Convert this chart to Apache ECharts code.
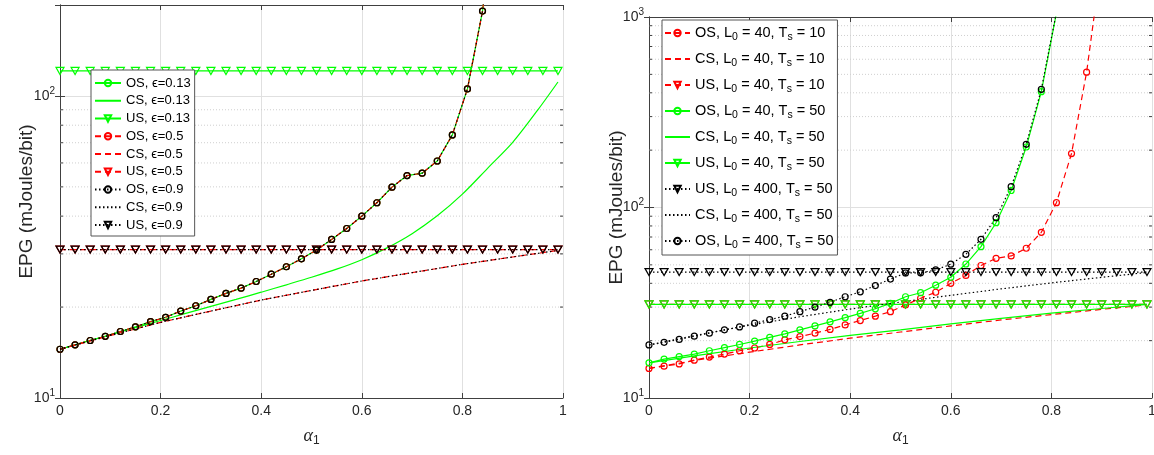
<!DOCTYPE html>
<html>
<head>
<meta charset="utf-8">
<script src="https://cdn.jsdelivr.net/npm/echarts@6/dist/echarts.min.js"></script>
<style>
  html, body { margin: 0; padding: 0; background: #fff; }
  #chart { width: 1154px; height: 455px; }
</style>
</head>
<body>
<div id="chart"></div>
<script>
// alpha_1 samples used for the marked curves (0 : 0.03 : 0.99)
var alpha = [0, 0.03, 0.06, 0.09, 0.12, 0.15, 0.18, 0.21, 0.24, 0.27, 0.30, 0.33,
  0.36, 0.39, 0.42, 0.45, 0.48, 0.51, 0.54, 0.57, 0.60, 0.63, 0.66, 0.69, 0.72,
  0.75, 0.78, 0.81, 0.84, 0.87, 0.90, 0.93, 0.96, 0.99];
// alpha_1 samples for the CS curves
var alphaCS = [0, 0.1, 0.2, 0.3, 0.4, 0.5, 0.6, 0.7, 0.8, 0.9, 0.99];
var alphaCSFine = [0, 0.05, 0.1, 0.15, 0.2, 0.25, 0.3, 0.35, 0.4, 0.45, 0.5, 0.55,
  0.6, 0.65, 0.7, 0.75, 0.8, 0.85, 0.9, 0.95, 0.99];

// left panel (epsilon)
var leftOS = [14.5, 15.0, 15.5, 16.0, 16.6, 17.2, 17.9, 18.5, 19.4, 20.2, 21.2, 22.2,
  23.1, 24.3, 25.7, 27.2, 28.9, 30.9, 33.5, 36.4, 40.0, 44.3, 49.9, 54.5, 55.5,
  60.9, 74.3, 105.5, 191, 513];
var leftCS013 = [14.5, 15.35, 16.2, 17.1, 18.05, 19.05, 20.1, 21.2, 22.4, 23.7, 25.1,
  26.7, 28.7, 31.4, 35.0, 40.1, 47.3, 57.6, 70.2, 89.9, 111.2];
var leftCS = [14.5, 16.1, 17.8, 19.4, 21.1, 22.7, 24.4, 26.0, 27.7, 29.3, 30.8];
var leftUS013 = 121;
var leftUS = 31;

// right panel (L0, Ts)
var rightOS10 = [14.3, 14.7, 15.1, 15.8, 16.4, 17.0, 17.7, 18.3, 19.1, 20.2, 21.0,
  21.9, 22.9, 24.2, 25.5, 26.9, 28.4, 30.8, 33.4, 35.9, 40.0, 44.0, 49.6, 54.1,
  55.7, 61.1, 74.1, 106, 192, 513, 2000];
var rightOS50 = [15.3, 16.0, 16.5, 17.0, 17.7, 18.4, 19.1, 19.9, 20.8, 21.7, 22.8,
  23.9, 25.1, 26.4, 27.8, 29.4, 31.4, 34.0, 35.7, 39.1, 43.0, 50.5, 62.3, 83.2,
  122.8, 207.8, 405.5, 1050];
var rightOS400 = [19.0, 19.6, 20.3, 21.1, 21.9, 22.8, 23.6, 24.7, 25.8, 26.9, 28.4,
  30.0, 31.8, 34.0, 36.1, 38.9, 42.1, 45.3, 45.4, 47.0, 50.4, 56.8, 68.1, 88.4,
  128.6, 214.7, 417.4, 1060];
var rightCS10 = [14.3, 15.9, 17.4, 19.0, 20.6, 22.2, 23.9, 25.7, 27.4, 29.2, 30.8];
var rightCS50 = [15.3, 16.8, 18.3, 19.8, 21.3, 22.8, 24.5, 26.2, 27.9, 29.5, 31.0];
var rightCS400 = [19.0, 21.5, 24.1, 26.7, 29.3, 31.9, 34.6, 37.4, 40.2, 43.0, 45.6];
var rightUS40 = 31;
var rightUS400 = 45.8;

// minor grid values of the log axes
var minorLeft = [20, 30, 40, 50, 60, 70, 80, 90];
var minorRight = [20, 30, 40, 50, 60, 70, 80, 90, 200, 300, 400, 500, 600, 700, 800, 900];

var FONT = '"Liberation Sans", Arial, Helvetica, sans-serif';
var AXIS = '#404040';
var GREEN = '#00ff00', RED = '#ff0000', BLACK = '#000000';
var DASH = [6, 4], DOT = [1.5, 2.5];

function pairs(xs, ys) {
  return ys.map(function (y, i) { return [xs[i], y]; });
}
function flat(xs, v) {
  return xs.map(function (x) { return [x, v]; });
}

function line(name, g, data, color, type, symbol, smooth) {
  var s = {
    name: name,
    type: 'line',
    xAxisIndex: g * 2,
    yAxisIndex: g * 2,
    data: data,
    z: 3,
    silent: true,
    smooth: smooth || false,
    symbol: symbol || 'none',
    showSymbol: !!symbol,
    symbolSize: symbol === 'triangle' ? [8, 7] : 6,
    symbolRotate: symbol === 'triangle' ? 180 : 0,
    lineStyle: { color: color, width: 1.2, type: type },
    itemStyle: { color: 'rgba(0,0,0,0)', borderColor: color, borderWidth: 1.2 },
    emphasis: { disabled: true }
  };
  if (!symbol) s.itemStyle.borderWidth = 0;
  return s;
}

function minorSeries(g, vals) {
  return {
    type: 'custom',
    xAxisIndex: g * 2,
    yAxisIndex: g * 2,
    silent: true,
    z: 1,
    data: vals.map(function (v) { return [0, v]; }),
    renderItem: function (params, api) {
      var v = api.value(1);
      var a = api.coord([0, v]);
      var b = api.coord([1, v]);
      return {
        type: 'group',
        children: [
          { type: 'line', shape: { x1: a[0], y1: a[1], x2: b[0], y2: b[1] },
            style: { stroke: '#cfcfcf', lineWidth: 1, lineDash: [1, 2] } },
          { type: 'line', shape: { x1: a[0], y1: a[1], x2: a[0] + 3, y2: a[1] },
            style: { stroke: AXIS, lineWidth: 1 } },
          { type: 'line', shape: { x1: b[0] - 3, y1: b[1], x2: b[0], y2: b[1] },
            style: { stroke: AXIS, lineWidth: 1 } }
        ]
      };
    }
  };
}

function xAxis(g, pos, main) {
  return {
    type: 'value', gridIndex: g, position: pos, min: 0, max: 1, interval: 0.2,
    axisLine: { show: true, lineStyle: { color: AXIS, width: 1 } },
    axisTick: { show: true, inside: true, length: 5, lineStyle: { color: AXIS } },
    axisLabel: { show: main, color: '#262626', fontSize: 14, margin: 6, fontFamily: FONT },
    splitLine: { show: main, lineStyle: { color: '#e0e0e0', width: 1 } },
    name: main ? '{a|\u03b1}{s|1}' : '',
    nameLocation: 'middle',
    nameGap: 27,
    nameMoveOverlap: false,
    nameTextStyle: {
      color: '#262626', lineHeight: 22,
      rich: {
        a: { fontSize: 18, fontStyle: 'italic', fontFamily: '"Liberation Serif", serif', color: '#262626', lineHeight: 22 },
        s: { fontSize: 12, fontFamily: FONT, color: '#262626', lineHeight: 12, verticalAlign: 'bottom' }
      }
    }
  };
}

function yAxis(g, pos, main, max, gap) {
  return {
    type: 'log', logBase: 10, gridIndex: g, position: pos, min: 10, max: max,
    axisLine: { show: true, lineStyle: { color: AXIS, width: 1 } },
    axisTick: { show: true, inside: true, length: 5, lineStyle: { color: AXIS } },
    axisLabel: {
      show: main, color: '#262626', fontSize: 14, margin: 5, fontFamily: FONT, lineHeight: 20,
      formatter: function (v) {
        var e = Math.log(v) / Math.LN10;
        var r = Math.round(e);
        if (Math.abs(e - r) > 1e-6) return '';
        return '10{sup|' + r + '}';
      },
      rich: { sup: { fontSize: 10, fontFamily: FONT, color: '#262626', lineHeight: 9, verticalAlign: 'top' } }
    },
    splitLine: { show: main, lineStyle: { color: '#e0e0e0', width: 1 } },
    name: main ? 'EPG (mJoules/bit)' : '',
    nameLocation: 'middle',
    nameGap: gap,
    nameMoveOverlap: false,
    nameTextStyle: { color: '#262626', fontSize: 19, fontFamily: FONT }
  };
}

var leftNames = ['OS, \u03f5=0.13', 'CS, \u03f5=0.13', 'US, \u03f5=0.13',
  'OS, \u03f5=0.5', 'CS, \u03f5=0.5', 'US, \u03f5=0.5',
  'OS, \u03f5=0.9', 'CS, \u03f5=0.9', 'US, \u03f5=0.9'];
var rightNames = ['OS, L_0 = 40, T_s = 10', 'CS, L_0 = 40, T_s = 10', 'US, L_0 = 40, T_s = 10',
  'OS, L_0 = 40, T_s = 50', 'CS, L_0 = 40, T_s = 50', 'US, L_0 = 40, T_s = 50',
  'US, L_0 = 400, T_s = 50', 'CS, L_0 = 400, T_s = 50', 'OS, L_0 = 400, T_s = 50'];

var chart = echarts.init(document.getElementById('chart'), null, { renderer: 'canvas' });

var option = {
  animation: false,
  backgroundColor: '#ffffff',
  textStyle: { fontFamily: FONT },
  grid: [
    { left: 60, top: 5, width: 503, height: 393, outerBoundsMode: 'none' },
    { left: 649, top: 17, width: 503, height: 381, outerBoundsMode: 'none' }
  ],
  xAxis: [xAxis(0, 'bottom', true), xAxis(0, 'top', false), xAxis(1, 'bottom', true), xAxis(1, 'top', false)],
  yAxis: [yAxis(0, 'left', true, 200, 24), yAxis(0, 'right', false, 200, 0),
    yAxis(1, 'left', true, 1000, 23), yAxis(1, 'right', false, 1000, 0)],
  legend: [
    {
      data: leftNames, orient: 'vertical', left: 91, top: 70,
      padding: [6, 4, 4, 3], itemWidth: 26, itemHeight: 8, itemGap: 3.75,
      backgroundColor: '#fff', borderColor: '#555', borderWidth: 1, borderRadius: 0,
      selectedMode: false,
      textStyle: { fontSize: 13, lineHeight: 14, color: '#000', fontFamily: FONT }
    },
    {
      data: rightNames, orient: 'vertical', left: 662, top: 20,
      padding: [3, 4, 4, 2], itemWidth: 25, itemHeight: 8, itemGap: 6,
      backgroundColor: '#fff', borderColor: '#555', borderWidth: 1, borderRadius: 0,
      selectedMode: false,
      formatter: function (name) { return name.replace(/_(\w)/g, '{sub|$1}'); },
      textStyle: {
        fontSize: 14.5, lineHeight: 20, color: '#000', fontFamily: FONT,
        rich: { sub: { fontSize: 10.5, lineHeight: 10, verticalAlign: 'bottom', color: '#000', fontFamily: FONT } }
      }
    }
  ],
  series: [
    minorSeries(0, minorLeft),
    minorSeries(1, minorRight),

    line('OS, \u03f5=0.13', 0, pairs(alpha, leftOS), GREEN, 'solid', 'circle'),
    line('CS, \u03f5=0.13', 0, pairs(alphaCSFine, leftCS013), GREEN, 'solid', null, 0.3),
    line('US, \u03f5=0.13', 0, flat(alpha, leftUS013), GREEN, 'solid', 'triangle'),
    line('OS, \u03f5=0.5', 0, pairs(alpha, leftOS), RED, DASH, 'circle'),
    line('CS, \u03f5=0.5', 0, pairs(alphaCS, leftCS), RED, DASH),
    line('US, \u03f5=0.5', 0, flat(alpha, leftUS), RED, DASH, 'triangle'),
    line('OS, \u03f5=0.9', 0, pairs(alpha, leftOS), BLACK, DOT, 'circle'),
    line('CS, \u03f5=0.9', 0, pairs(alphaCS, leftCS), BLACK, DOT),
    line('US, \u03f5=0.9', 0, flat(alpha, leftUS), BLACK, DOT, 'triangle'),

    line(rightNames[0], 1, pairs(alpha, rightOS10), RED, DASH, 'circle'),
    line(rightNames[1], 1, pairs(alphaCS, rightCS10), RED, DASH),
    line(rightNames[2], 1, flat(alpha, rightUS40), RED, DASH, 'triangle'),
    line(rightNames[3], 1, pairs(alpha, rightOS50), GREEN, 'solid', 'circle'),
    line(rightNames[4], 1, pairs(alphaCS, rightCS50), GREEN, 'solid'),
    line(rightNames[5], 1, flat(alpha, rightUS40), GREEN, 'solid', 'triangle'),
    line(rightNames[6], 1, flat(alpha, rightUS400), BLACK, DOT, 'triangle'),
    line(rightNames[7], 1, pairs(alphaCS, rightCS400), BLACK, DOT),
    line(rightNames[8], 1, pairs(alpha, rightOS400), BLACK, DOT, 'circle')
  ]
};

chart.setOption(option);
</script>
</body>
</html>
